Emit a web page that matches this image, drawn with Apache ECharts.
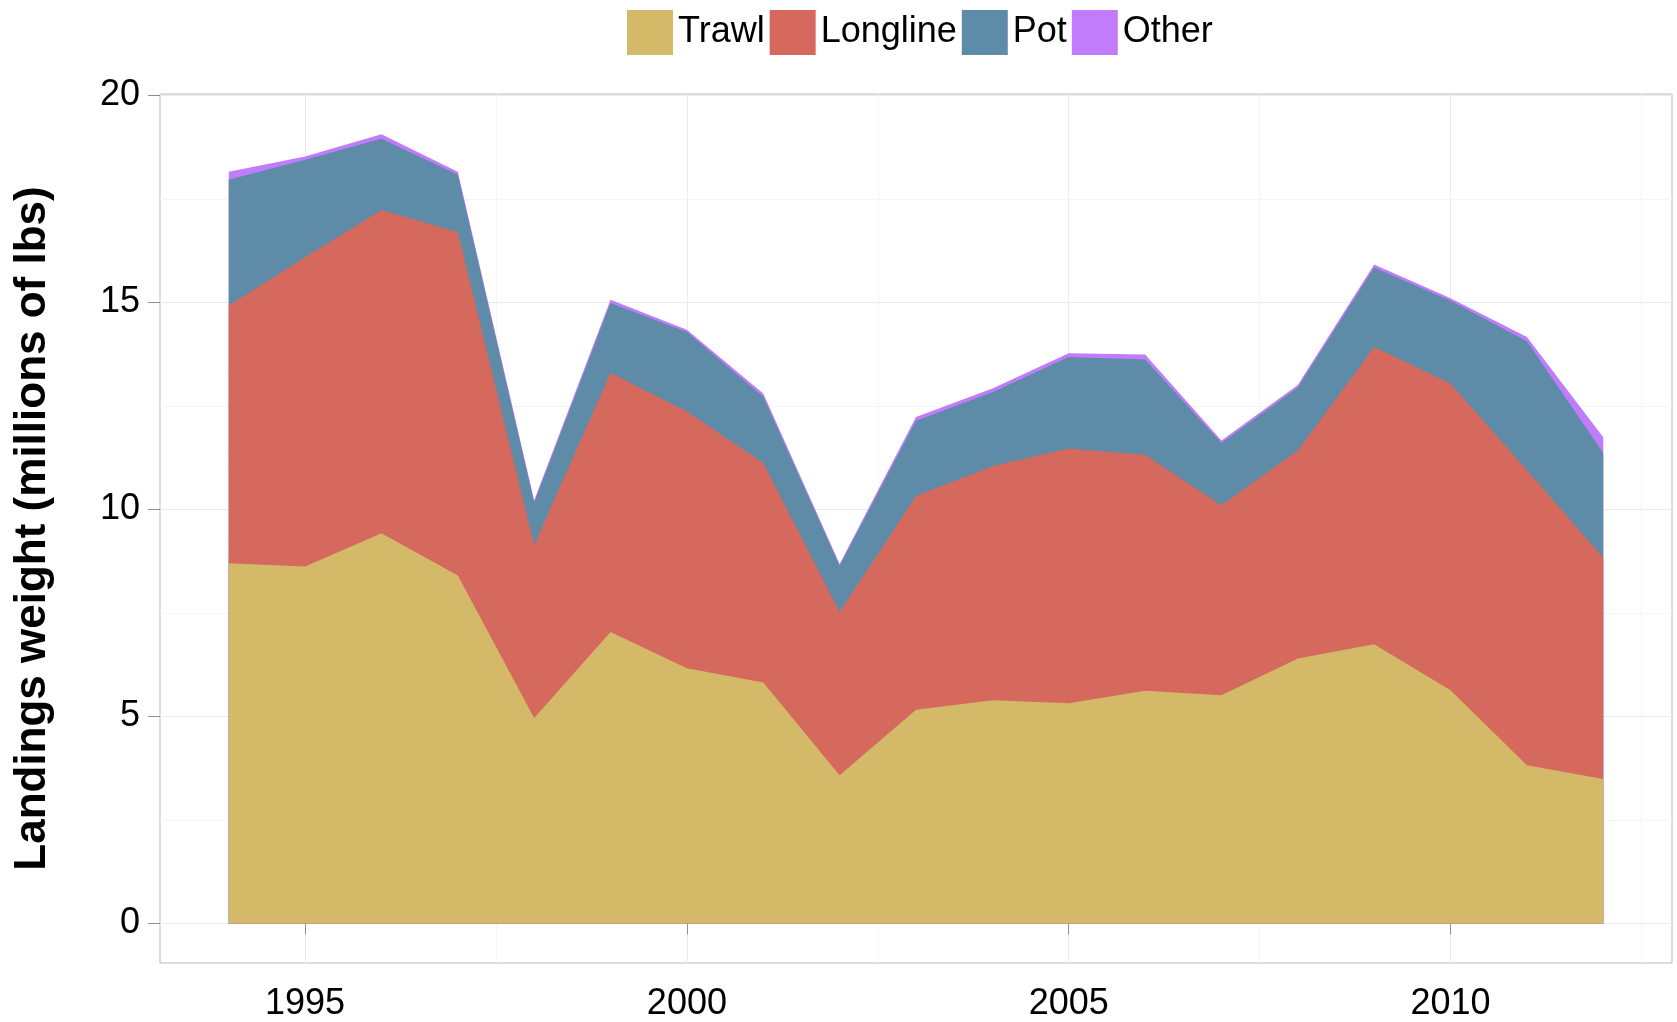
<!DOCTYPE html>
<html lang="en">
<head>
    <meta charset="utf-8">
    <title>Landings weight by gear</title>
    <script src="https://cdn.jsdelivr.net/npm/echarts@6/dist/echarts.min.js"></script>
    <style>
        html, body { margin: 0; padding: 0; background: #fff; }
        #chart { width: 1677px; height: 1022px; }
    </style>
</head>
<body>
    <div id="chart"></div>
    <script>
        // data, millions of lbs
        var years = [1994, 1995, 1996, 1997, 1998, 1999, 2000, 2001, 2002, 2003,
                     2004, 2005, 2006, 2007, 2008, 2009, 2010, 2011, 2012];
        var trawl    = [8.70, 8.62, 9.42, 8.40, 4.96, 7.04, 6.16, 5.82, 3.58, 5.16,
                        5.39, 5.32, 5.62, 5.51, 6.40, 6.74, 5.63, 3.82, 3.49];
        var longline = [6.22, 7.47, 7.81, 8.30, 4.18, 6.26, 6.20, 5.30, 3.94, 5.16,
                        5.65, 6.15, 5.70, 4.59, 5.02, 7.18, 7.41, 7.13, 5.34];
        var pot      = [3.04, 2.35, 1.72, 1.38, 1.02, 1.68, 1.92, 1.60, 1.12, 1.82,
                        1.79, 2.21, 2.30, 1.50, 1.52, 1.92, 2.00, 3.11, 2.53];
        var other    = [0.19, 0.08, 0.11, 0.07, 0.06, 0.08, 0.06, 0.08, 0.04, 0.09,
                        0.09, 0.09, 0.12, 0.06, 0.06, 0.07, 0.06, 0.10, 0.38];

        var gearNames = ['Trawl', 'Longline', 'Pot', 'Other'];
        var gearColors = ['#D3B968', '#D5695D', '#5D8BA8', '#C07CFA'];

        var xTicks = [1995, 2000, 2005, 2010];
        var xMinor = [1997.5, 2002.5, 2007.5, 2012.5];
        var yTicks = [0, 5, 10, 15, 20];
        var yMinor = [2.5, 7.5, 12.5, 17.5];

        var font = 'Liberation Sans, Arial, Helvetica, sans-serif';

        // stack by hand: each area is the running total, filled down to 0
        var layers = [trawl, longline, pot, other];
        var running = years.map(function () { return 0; });
        var stacked = layers.map(function (vals) {
            running = running.map(function (r, i) { return r + vals[i]; });
            return running.slice();
        });

        var series = [];
        // grid lines sit behind the areas
        var gridLines = [];
        xTicks.forEach(function (v) { gridLines.push({ xAxis: v, lineStyle: { color: '#EBEBEB' } }); });
        xMinor.forEach(function (v) { gridLines.push({ xAxis: v, lineStyle: { color: '#F5F5F5' } }); });
        yTicks.forEach(function (v) { gridLines.push({ yAxis: v, lineStyle: { color: '#EBEBEB' } }); });
        yMinor.forEach(function (v) { gridLines.push({ yAxis: v, lineStyle: { color: '#F5F5F5' } }); });
        series.push({
            name: 'grid',
            type: 'line',
            data: [],
            z: 0,
            silent: true,
            markLine: {
                silent: true,
                z: 0,
                symbol: ['none', 'none'],
                label: { show: false },
                lineStyle: { type: 'solid', width: 1 },
                data: gridLines
            }
        });

        // top layer first so the lower ones paint over it
        for (var k = layers.length - 1; k >= 0; k--) {
            series.push({
                name: gearNames[k],
                type: 'line',
                z: 2 + (layers.length - k),
                color: gearColors[k],
                symbol: 'none',
                lineStyle: { width: 0 },
                areaStyle: { color: gearColors[k], opacity: 1, origin: 0 },
                data: years.map(function (y, i) { return [y, stacked[k][i]]; })
            });
        }

        var option = {
            backgroundColor: '#fff',
            animation: false,
            textStyle: { fontFamily: font },
            legend: {
                data: gearNames,
                left: 627,
                top: 10,
                padding: 0,
                icon: 'rect',
                itemWidth: 46,
                itemHeight: 45,
                itemGap: 5,
                itemStyle: { borderWidth: 0 },
                textStyle: { fontSize: 36, color: '#000', fontFamily: font }
            },
            grid: {
                left: 160,
                right: 5,
                top: 94,
                bottom: 54,
                show: true,
                backgroundColor: '#fff',
                borderColor: '#BBBBBB',
                borderWidth: 1
            },
            xAxis: {
                type: 'value',
                min: 1993.1,
                max: 2012.9,
                axisLine: { show: false },
                splitLine: { show: false },
                axisTick: {
                    show: true,
                    length: 11,
                    customValues: xTicks,
                    lineStyle: { color: '#8C8C8C' }
                },
                axisLabel: {
                    customValues: xTicks,
                    margin: 23,
                    fontSize: 36,
                    color: '#000',
                    fontFamily: font,
                    formatter: function (v) { return String(v); }
                }
            },
            yAxis: {
                type: 'value',
                min: -0.955,
                max: 20.03,
                name: 'Landings weight (millions of lbs)',
                nameLocation: 'middle',
                nameGap: 105,
                nameTextStyle: { fontSize: 44, fontWeight: 'bold', color: '#000', fontFamily: font },
                axisLine: { show: false },
                splitLine: { show: false },
                axisTick: {
                    show: true,
                    length: 12,
                    customValues: yTicks,
                    lineStyle: { color: '#8C8C8C' }
                },
                axisLabel: {
                    customValues: yTicks,
                    margin: 20,
                    fontSize: 36,
                    color: '#000',
                    fontFamily: font
                }
            },
            series: series
        };

        var chart = echarts.init(document.getElementById('chart'), null, { renderer: 'canvas' });
        chart.setOption(option);
    </script>
</body>
</html>
